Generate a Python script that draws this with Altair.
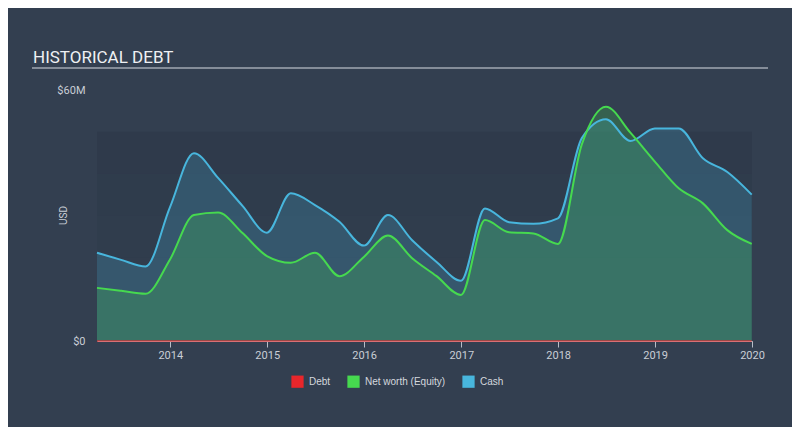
import altair as alt
import pandas as pd

dates = ["2013-03-31", "2013-06-30", "2013-09-30", "2013-12-31",
         "2014-03-31", "2014-06-30", "2014-09-30", "2014-12-31",
         "2015-03-31", "2015-06-30", "2015-09-30", "2015-12-31",
         "2016-03-31", "2016-06-30", "2016-09-30", "2016-12-31",
         "2017-03-31", "2017-06-30", "2017-09-30", "2017-12-31",
         "2018-03-31", "2018-06-30", "2018-09-30", "2018-12-31",
         "2019-03-31", "2019-06-30", "2019-09-30", "2019-12-31"]
cash = [21.1, 19.4, 17.8, 32.0,
        44.9, 39.0, 32.3, 25.9,
        35.3, 32.5, 28.5, 22.8,
        30.1, 24.1, 18.9, 14.4,
        31.7, 28.4, 28.0, 29.3,
        48.5, 53.0, 47.8, 50.8,
        50.8, 43.7, 40.4, 35.0]
equity = [12.7, 12.0, 11.3, 19.5,
          30.1, 30.7, 25.8, 20.3,
          18.7, 21.1, 15.5, 20.1,
          25.2, 19.8, 15.5, 11.0,
          28.9, 26.0, 25.7, 23.2,
          47.0, 56.0, 49.8, 42.9,
          36.5, 32.9, 26.5, 23.2]
debt = [0, 0, 0, 0, 0, 0, 0, 0, 0, 0, 0, 0, 0, 0,
        0, 0, 0, 0, 0, 0, 0, 0, 0, 0, 0, 0, 0, 0]

series_names = ["Debt", "Net worth (Equity)", "Cash"]
series_colors = ["#e8262b", "#46d94f", "#48b6dd"]
year_ticks = [2014, 2015, 2016, 2017, 2018, 2019, 2020]

band_lo = [0, 10, 20, 30, 40]
band_hi = [10, 20, 30, 40, 50]
band_opacity = [0.05, 0.08, 0.11, 0.14, 0.18]

rows = []
for name, vals in zip(series_names, [debt, equity, cash]):
    for d, v in zip(dates, vals):
        rows.append({"date": d, "series": name, "value": v})
df = pd.DataFrame(rows)
bands = pd.DataFrame({"lo": band_lo, "hi": band_hi, "op": band_opacity})

W, H = 655, 251
font = "Roboto"

xscale = alt.Scale(domain=[alt.DateTime(year=2013, month=3, date=31),
                           alt.DateTime(year=2020, month=1, date=1)])
yscale = alt.Scale(domain=[0, 60], nice=False)
cscale = alt.Scale(domain=series_names, range=series_colors)

x_enc = alt.X("date:T", scale=xscale, axis=alt.Axis(
    values=[alt.DateTime(year=y, month=1, date=1) for y in year_ticks],
    format="%Y", title=None, grid=False, labelColor="#c9ced6",
    labelFont=font, labelFontSize=11, tickColor="#b8bec8", tickSize=6,
    domainColor="#c8ccd2", labelPadding=2, labelFlush=False))

y_axis = alt.Axis(
    values=[0, 60], labelExpr="'$' + datum.value + (datum.value > 0 ? 'M' : '')",
    grid=False, ticks=False, domain=False, labelPadding=12,
    labelColor="#c9ced6", labelFont=font, labelFontSize=11,
    title="USD", titleColor="#c9ced6", titleFont=font, titleFontSize=10,
    titleFontWeight="normal", titleAngle=-90, titleX=-34, titleY=125,
    titleAlign="center", titleBaseline="middle")

y_enc = alt.Y("value:Q", scale=yscale, axis=y_axis)

base = alt.Chart(df)

band_layer = alt.Chart(bands).mark_rect(color="#1f2936").encode(
    x=alt.value(0), x2=alt.value(W),
    y=alt.Y("lo:Q", scale=yscale, axis=y_axis), y2="hi:Q",
    opacity=alt.Opacity("op:Q", scale=None, legend=None))

legend = alt.Legend(title=None, orient="none", legendX=194, legendY=285,
                    direction="horizontal", symbolType="square", symbolSize=150,
                    symbolOpacity=1, symbolStrokeWidth=0, labelColor="#d4d8de",
                    labelFont="Liberation Sans", labelFontSize=10, columnPadding=16,
                    labelOffset=5)

def area(name):
    return base.transform_filter(alt.datum.series == name).mark_area(
        interpolate="monotone", fillOpacity=0.22).encode(
        x=x_enc, y=y_enc,
        fill=alt.Fill("series:N", scale=cscale, legend=legend))

def line(name, w=2, op=1.0):
    return base.transform_filter(alt.datum.series == name).mark_line(
        interpolate="monotone", strokeWidth=w, strokeOpacity=op).encode(
        x=x_enc, y=y_enc,
        stroke=alt.Stroke("series:N", scale=cscale, legend=None))

title_df = pd.DataFrame({"t": ["HISTORICAL DEBT"]})
title_layer = alt.Chart(title_df).mark_text(
    align="left", baseline="alphabetic", font=font, fontSize=17,
    color="#eef0f3").encode(text="t:N", x=alt.value(-64), y=alt.value(-27))
underline = alt.Chart(title_df).mark_rule(color="#d8dce2", strokeWidth=1).encode(
    x=alt.value(-65), x2=alt.value(671), y=alt.value(-22))

chart = alt.layer(
    band_layer, area("Cash"), area("Net worth (Equity)"), area("Debt"),
    line("Cash"), line("Net worth (Equity)"), line("Debt", 1.5, 0.75),
    title_layer, underline
).properties(
    width=W, height=H,
    autosize=alt.AutoSizeParams(type="none"),
    padding={"left": 89, "top": 82, "right": 40, "bottom": 86},
    background="#333f50"
).configure_view(strokeWidth=0).resolve_scale(y="shared")

chart.save("out.html", embed_options={"renderer": "svg", "actions": False})
